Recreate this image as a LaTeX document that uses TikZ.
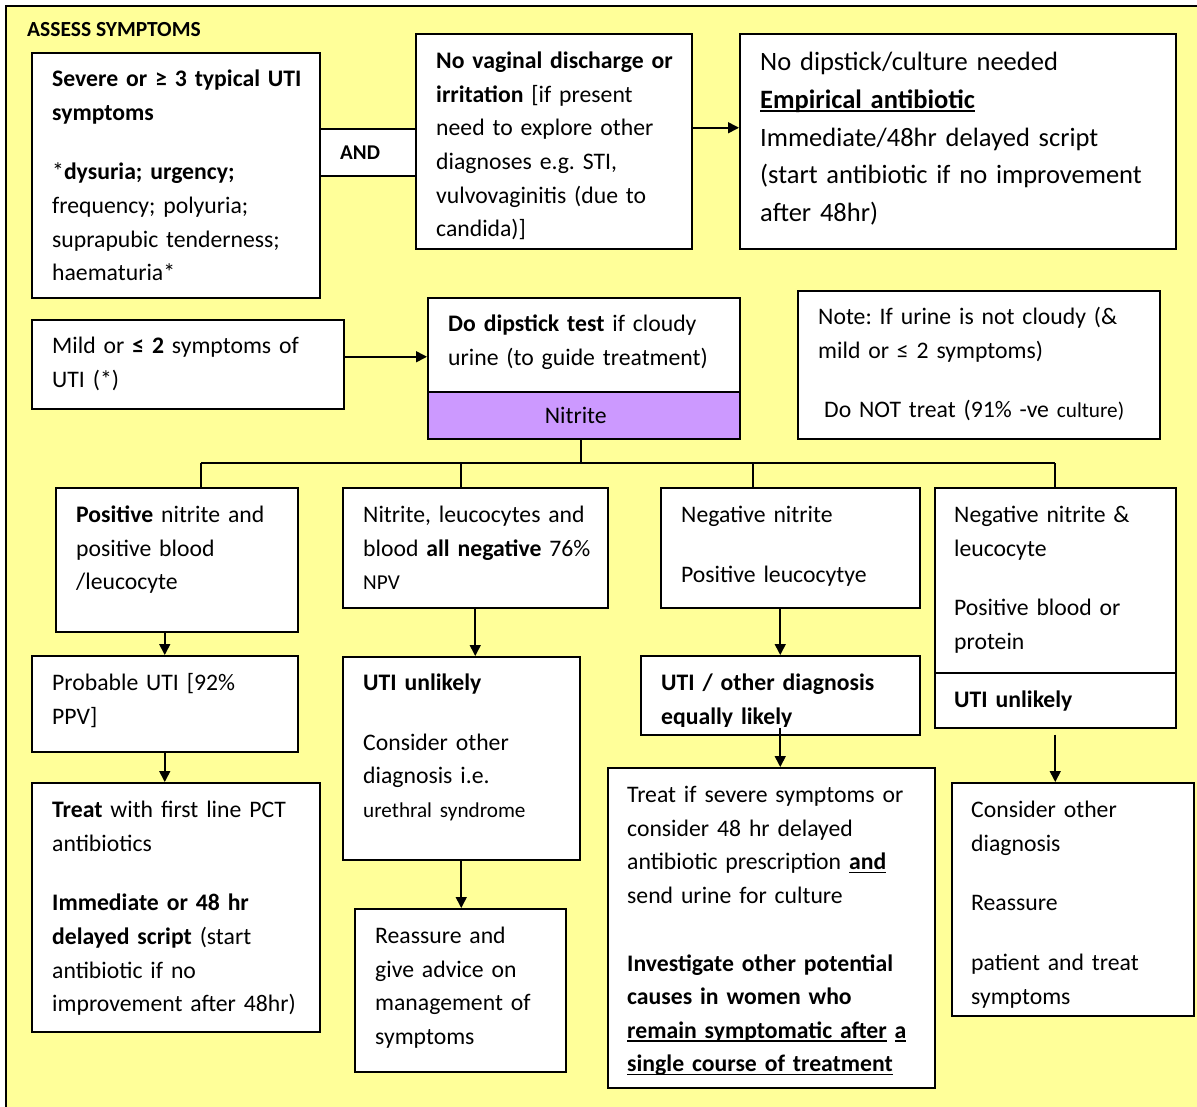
\documentclass[tikz,border=0pt]{standalone}
\usepackage{fontspec}
\setmainfont{Carlito}
\usetikzlibrary{arrows.meta}

\definecolor{bgyellow}{HTML}{FFFF99}
\definecolor{nitpurple}{HTML}{CC99FF}

%% font sizes (1pt = 1 pixel of the chart)
\newcommand\fnorm{\fontsize{23.7}{33.6}\selectfont}
\newcommand\fbig{\fontsize{26.5}{37.75}\selectfont}
\newcommand\fsmall{\fontsize{21.2}{33.6}\selectfont}
%% underline that sits close to the baseline
\newsavebox\undlbox
\newcommand\undl[1]{\leavevmode\sbox\undlbox{#1}\rlap{\rule[-3.5pt]{\wd\undlbox}{1.8pt}}\usebox\undlbox}
\frenchspacing

\begin{document}
\begin{tikzpicture}[x=1pt, y=-1pt,
  box/.style={draw, fill=white, line width=1.5pt, anchor=north west, inner sep=0pt},
  txt/.style={anchor=north west, inner sep=0pt, align=left, text width=430pt,
    font=\fnorm, execute at begin node=\strut},
  arr/.style={-{Triangle[width=11pt,length=11pt]}, line width=1.6pt},
  wire/.style={line width=1.6pt}]

\useasboundingbox (0,0) rectangle (1197,1106);
\draw[fill=bgyellow, line width=1.5pt] (6,6) rectangle (1210,1120);
\node[anchor=west, inner sep=0pt, font=\fontsize{21.5}{24}\selectfont\bfseries] (title) at (27,30) {ASSESS SYMPTOMS};

%%%%%% top row %%%%%%
\node[box, minimum width=288, minimum height=245] (sev) at (31,52) {};
\node[txt] (sev-t) at ([shift={(21,11)}]sev.north west)
  {\textbf{Severe or ≥ 3 typical UTI}\\ \textbf{symptoms}\\[26pt]
   *\textbf{dysuria; urgency;}\\ frequency; polyuria;\\ suprapubic tenderness;\\ haematuria*};

\node[box, minimum width=96, minimum height=47] (and) at (319,128) {};
\node[anchor=west, inner sep=0pt, font=\fontsize{21}{24}\selectfont\bfseries] (and-t) at ([xshift=21pt]and.west) {AND};

\node[box, minimum width=276, minimum height=215] (vag) at (415,33) {};
\node[txt] (vag-t) at ([shift={(21,12)}]vag.north west)
  {\textbf{No vaginal discharge or}\\ \textbf{irritation} [if present\\ need to explore other\\
   diagnoses e.g. STI,\\ vulvovaginitis (due to\\ candida)]};

\node[box, minimum width=436, minimum height=215] (emp) at (739,33) {};
\node[txt, font=\fbig] (emp-t) at ([shift={(21,11)}]emp.north west)
  {No dipstick/culture needed\\ \undl{\textbf{Empirical antibiotic}}\\ Immediate/48hr delayed script\\
   (start antibiotic if no improvement\\ after 48hr)};

\draw[arr] ([yshift=13.5pt]vag.east) -- ([yshift=13.5pt]emp.west);

%%%%%% dipstick row %%%%%%
\node[box, minimum width=312, minimum height=89] (mild) at (31,319) {};
\node[txt] (mild-t) at ([shift={(21,11)}]mild.north west)
  {Mild or \textbf{≤ 2} symptoms of\\ UTI (*)};

\node[box, minimum width=312, minimum height=94] (dip) at (427,297) {};
\node[txt] (dip-t) at ([shift={(21,11)}]dip.north west)
  {\textbf{Do dipstick test} if cloudy\\ urine (to guide treatment)};
\node[box, fill=nitpurple, minimum width=312, minimum height=47, font=\fnorm] (nit) at (427,391) {Nitrite\hspace*{16pt}};

\coordinate (m1) at ([yshift=7.5pt]mild.east);
\draw[arr] (m1) -- (m1 -| dip.west);

\node[box, minimum width=362, minimum height=148] (note) at (797,290) {};
\node[txt] (note-t) at ([shift={(21,11)}]note.north west)
  {Note: If urine is not cloudy (\&\\ mild or ≤ 2 symptoms)\\[26pt]
   \hspace*{6pt}Do NOT treat (91\% -ve {\fsmall culture)}};

%%%%%% dipstick results %%%%%%
\node[box, minimum width=242, minimum height=144] (pos) at (55,487) {};
\node[txt] (pos-t) at ([shift={(21,12)}]pos.north west)
  {\textbf{Positive} nitrite and\\ positive blood\\ /leucocyte};

\node[box, minimum width=265, minimum height=120] (neg) at (342,487) {};
\node[txt] (neg-t) at ([shift={(21,12)}]neg.north west)
  {Nitrite, leucocytes and\\ blood \textbf{all negative} 76\%\\ {\fsmall NPV}};

\node[box, minimum width=259, minimum height=120] (negnit) at (660,487) {};
\node[txt] (negnit-t) at ([shift={(21,12)}]negnit.north west)
  {Negative nitrite\\[26pt] Positive leucocytye};

\node[box, minimum width=241, minimum height=185] (rgt) at (934,487) {};
\node[txt] (rgt-t) at ([shift={(20,12)}]rgt.north west)
  {Negative nitrite \&\\ leucocyte\\[26pt] Positive blood or\\ protein};
\node[box, minimum width=241, minimum height=55] (rgtu) at (934,672) {};
\node[txt] (rgtu-t) at ([shift={(20,12)}]rgtu.north west) {\textbf{UTI unlikely}};

%% bus from the nitrite band
\coordinate (bus) at (0,463);
\coordinate (nit-bot) at ([xshift=-3pt]nit.south);
\draw[wire] (nit-bot) -- (nit-bot |- bus);
\foreach \b/\dx in {pos/24, neg/-14.5, negnit/-37.5, rgt/0}{
  \coordinate (\b-top) at ([xshift=\dx pt]\b.north);
  \draw[wire] (\b-top) -- (\b-top |- bus);
}
\draw[wire] (pos-top |- bus) -- (rgt-top |- bus);

%%%%%% second level %%%%%%
\node[box, minimum width=266, minimum height=96] (prob) at (31,655) {};
\node[txt] (prob-t) at ([shift={(21,12)}]prob.north west)
  {Probable UTI [92\%\\ PPV]};

\node[box, minimum width=237, minimum height=203] (unl) at (342,656) {};
\node[txt] (unl-t) at ([shift={(21,11)}]unl.north west)
  {\textbf{UTI unlikely}\\[26pt] Consider other\\ diagnosis i.e.\\ {\fsmall urethral syndrome}};

\node[box, minimum width=279, minimum height=79] (eq) at (640,655) {};
\begin{scope}
  \clip (eq.north west) rectangle ([yshift=9pt]eq.south east);
  \node[txt] (eq-t) at ([shift={(21,12)}]eq.north west)
    {\textbf{UTI / other diagnosis}\\ \textbf{equally likely}};
\end{scope}

\draw[arr] (pos.south -| prob.north) -- (prob.north);
\draw[arr] (neg.south) -- (neg.south |- unl.north);
\draw[arr] (eq.north |- negnit.south) -- (eq.north);

%%%%%% bottom level %%%%%%
\node[box, minimum width=288, minimum height=249] (treat) at (31,782) {};
\node[txt] (treat-t) at ([shift={(21,12)}]treat.north west)
  {\textbf{Treat} with first line PCT\\ antibiotics\\[26pt] \textbf{Immediate or 48 hr}\\
   \textbf{delayed script} (start\\ antibiotic if no\\ improvement after 48hr)};

\node[box, minimum width=211, minimum height=163] (reas) at (354,908) {};
\node[txt] (reas-t) at ([shift={(21,12)}]reas.north west)
  {Reassure and\\ give advice on\\ management of\\ symptoms};

\node[box, minimum width=327, minimum height=320] (treatif) at (607,767) {};
\node[txt] (treatif-t) at ([shift={(20,12)}]treatif.north west)
  {Treat if severe symptoms or\\ consider 48 hr delayed\\ antibiotic prescription \undl{\textbf{and}}\\
   send urine for culture\\[34pt] \textbf{Investigate other potential}\\ \textbf{causes in women who}\\
   \undl{\textbf{remain symptomatic after}} \undl{\textbf{a}}\\ \undl{\textbf{single course of treatment}}};

\node[box, minimum width=242, minimum height=233] (cons) at (951,782) {};
\begin{scope}
  \clip (cons.north west) rectangle ([yshift=9pt]cons.south east);
  \node[txt] (cons-t) at ([shift={(20,12)}]cons.north west)
    {Consider other\\ diagnosis\\[26pt] Reassure\\[26pt] patient and treat\\ symptoms};
\end{scope}

\draw[arr] (prob.south) -- (prob.south |- treat.north);
\draw[arr] (unl.south) -- (unl.south |- reas.north);
\draw[arr] ([yshift=8pt]eq.south) -- (eq.south |- treatif.north);
\draw[arr] ([yshift=-6pt]rgtu.south) -- (rgtu.south |- cons.north);

\end{tikzpicture}
\end{document}
